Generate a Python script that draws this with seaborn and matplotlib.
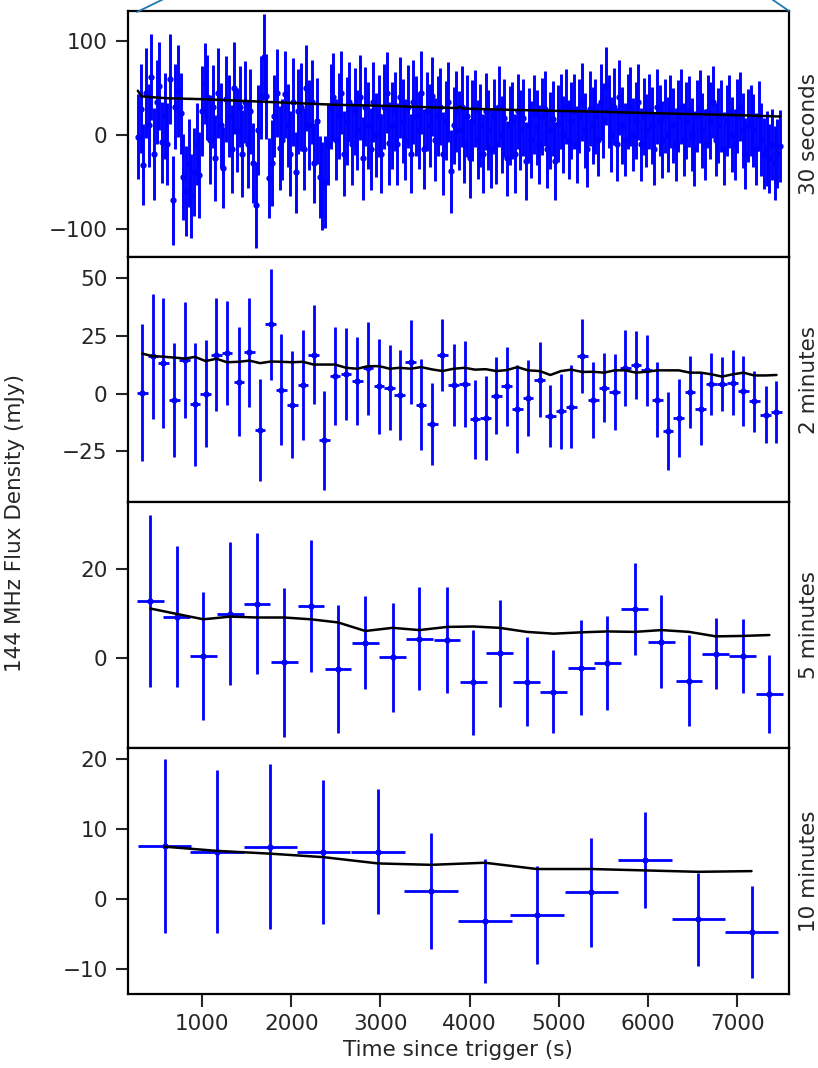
import matplotlib
matplotlib.use("Agg")
import matplotlib.pyplot as plt
from matplotlib.lines import Line2D
import seaborn as sns

# 30 second bins
t_30s = [
    280, 310, 340, 370, 400, 430, 460, 490, 520, 550,
    580, 610, 640, 670, 700, 730, 760, 790, 820, 850,
    880, 910, 940, 970, 1000, 1030, 1060, 1090, 1120, 1150,
    1180, 1210, 1240, 1270, 1300, 1330, 1360, 1390, 1420, 1450,
    1480, 1510, 1540, 1570, 1600, 1630, 1660, 1690, 1720, 1750,
    1780, 1810, 1840, 1870, 1900, 1930, 1960, 1990, 2020, 2050,
    2080, 2110, 2140, 2170, 2200, 2230, 2260, 2290, 2320, 2350,
    2380, 2410, 2440, 2470, 2500, 2530, 2560, 2590, 2620, 2650,
    2680, 2710, 2740, 2770, 2800, 2830, 2860, 2890, 2920, 2950,
    2980, 3010, 3040, 3070, 3100, 3130, 3160, 3190, 3220, 3250,
    3280, 3310, 3340, 3370, 3400, 3430, 3460, 3490, 3520, 3550,
    3580, 3610, 3640, 3670, 3700, 3730, 3760, 3790, 3820, 3850,
    3880, 3910, 3940, 3970, 4000, 4030, 4060, 4090, 4120, 4150,
    4180, 4210, 4240, 4270, 4300, 4330, 4360, 4390, 4420, 4450,
    4480, 4510, 4540, 4570, 4600, 4630, 4660, 4690, 4720, 4750,
    4780, 4810, 4840, 4870, 4900, 4930, 4960, 4990, 5020, 5050,
    5080, 5110, 5140, 5170, 5200, 5230, 5260, 5290, 5320, 5350,
    5380, 5410, 5440, 5470, 5500, 5530, 5560, 5590, 5620, 5650,
    5680, 5710, 5740, 5770, 5800, 5830, 5860, 5890, 5920, 5950,
    5980, 6010, 6040, 6070, 6100, 6130, 6160, 6190, 6220, 6250,
    6280, 6310, 6340, 6370, 6400, 6430, 6460, 6490, 6520, 6550,
    6580, 6610, 6640, 6670, 6700, 6730, 6760, 6790, 6820, 6850,
    6880, 6910, 6940, 6970, 7000, 7030, 7060, 7090, 7120, 7150,
    7180, 7210, 7240, 7270, 7300, 7330, 7360, 7390, 7420, 7450, 7480,
]
flux_30s = [
    -2, 28, -32, 45, 10, 62, -20, 35, 52, -8,
    20, -10, 60, -70, 30, 47, 23, -45, -60, -30,
    -65, -40, -10, -43, 25, 55, 40, -5, 30, -25,
    45, 10, -35, 38, 20, -15, 50, 5, 30, -20,
    35, -10, 25, -30, -75, 5, 40, 83, 41, -46,
    -30, 20, 45, -14, -5, 43, 10, -20, 35, -40,
    25, 30, -15, 50, 10, 35, -30, 15, -45, -55,
    -50, -10, 30, 40, -5, 20, 45, -20, 15, 35,
    -10, 25, 5, 40, -25, 30, 10, -15, 35, 0,
    20, -20, 30, 45, -9, 10, 25, -10, 40, 15,
    -5, 30, -20, 35, 20, 5, 45, -15, 25, 10,
    41, -5, 20, 30, -20, 15, 35, -39, 10, 25,
    5, 30, -10, 20, -25, 15, 28, -5, 10, -20,
    25, 5, -15, 20, -10, 30, 0, 18, -25, 10,
    15, -20, 25, 5, 18, -28, 10, -5, 22, 8,
    -10, 20, 28, -15, 5, 17, -28, 12, 25, 0,
    30, -5, 15, 25, -10, 20, 35, 5, -15, 28,
    10, 20, -5, 35, 15, 52, 25, 0, 30, -10,
    40, 10, -5, 25, 30, 0, 15, 35, -10, 20,
    5, 25, 10, -15, 30, 15, -5, 20, 0, 25,
    10, -10, 20, 30, -5, 15, 25, 0, -15, 20,
    30, 5, -10, 25, 15, 35, -5, 10, 20, -15,
    15, 25, 0, -10, 20, 30, 5, -20, 10, 15,
    5, -15, 20, -5, -20, -15, -25, -10, -30, -20, -12,
]
err_30s = [
    45, 47, 43, 48, 44, 46, 49, 45, 47, 43,
    46, 44, 48, 47, 45, 49, 43, 46, 48, 47,
    45, 47, 44, 46, 48, 43, 45, 47, 44, 46,
    48, 45, 43, 46, 44, 47, 49, 45, 43, 46,
    44, 47, 45, 43, 46, 48, 44, 46, 45, 43,
    46, 44, 47, 45, 43, 46, 44, 45, 47, 43,
    45, 47, 44, 46, 48, 45, 43, 46, 44, 47,
    49, 44, 45, 47, 43, 46, 44, 45, 47, 43,
    44, 46, 43, 45, 44, 42, 46, 44, 43, 45,
    44, 42, 45, 43, 44, 46, 42, 44, 43, 45,
    43, 44, 42, 45, 43, 41, 44, 43, 42, 44,
    42, 44, 43, 41, 44, 42, 43, 44, 41, 43,
    42, 43, 41, 44, 42, 43, 41, 42, 44, 42,
    41, 43, 42, 40, 42, 43, 41, 42, 40, 42,
    41, 42, 40, 43, 41, 42, 40, 41, 42, 40,
    42, 41, 40, 42, 41, 40, 42, 41, 40, 41,
    40, 42, 41, 40, 41, 39, 42, 40, 41, 40,
    41, 40, 39, 41, 40, 42, 39, 40, 41, 39,
    40, 41, 39, 40, 42, 39, 41, 40, 39, 41,
    39, 40, 41, 39, 40, 38, 41, 39, 40, 39,
    40, 39, 38, 40, 39, 41, 38, 39, 40, 38,
    39, 40, 38, 39, 41, 38, 39, 40, 38, 39,
    38, 39, 40, 38, 39, 37, 40, 38, 39, 38,
    39, 38, 37, 39, 38, 40, 37, 38, 39, 37, 38,
]
model_t_30s = [280, 320, 600, 1000, 1500, 2000, 2500, 3000, 3500, 3860, 3890,
               3920, 4500, 5000, 5500, 5900, 6500, 7000, 7480]
model_30s = [47, 41, 39, 38, 36, 34, 32, 31, 29.5, 28.5, 30,
             28, 26.5, 25.5, 24.5, 23.5, 22, 21, 19.5]

# 2 minute bins
t_2min = [330, 450, 565, 690, 805, 920, 1040, 1160, 1280, 1415,
          1530, 1650, 1770, 1890, 2010, 2130, 2250, 2370, 2490, 2615,
          2740, 2860, 2985, 3105, 3215, 3340, 3455, 3580, 3695, 3820,
          3945, 4060, 4180, 4300, 4415, 4535, 4655, 4785, 4905, 5025,
          5140, 5265, 5385, 5505, 5625, 5745, 5865, 5985, 6105, 6225,
          6345, 6470, 6590, 6710, 6830, 6950, 7070, 7190, 7320, 7440]
flux_2min = [0.4, 16.1, 13.2, -2.6, 14.5, -4.6, 0.0, 16.8, 17.5, 5.1,
             17.8, -15.7, 29.9, 1.7, -4.8, 3.7, 16.8, -20.2, 7.5, 8.3,
             5.4, 10.8, 3.1, 2.6, -0.6, 13.7, -4.8, -13.1, 16.8, 3.6,
             4.0, -11.1, -10.5, -0.9, 3.1, -6.7, -2.0, 6.0, -9.8, -7.7,
             -5.7, 16.1, -2.8, 2.6, 0.6, 11.1, 12.3, 10.1, -2.6, -16.2,
             -10.5, 0.6, -6.6, 4.0, 4.0, 4.6, 1.1, -3.4, -9.1, -8.1]
err_2min = [29.7, 27.0, 28.0, 24.6, 24.9, 26.6, 23.1, 24.3, 22.6, 23.6,
            23.4, 22.1, 24.0, 23.8, 23.1, 23.8, 21.2, 21.5, 21.1, 19.8,
            19.0, 20.1, 20.5, 18.3, 19.3, 18.1, 19.7, 17.8, 15.5, 17.8,
            18.5, 17.0, 18.0, 16.5, 17.0, 18.8, 16.5, 16.1, 13.3, 16.3,
            17.8, 16.0, 16.3, 15.0, 16.5, 16.3, 14.7, 15.3, 16.0, 16.7,
            16.8, 15.5, 15.8, 13.3, 11.6, 14.0, 15.3, 13.0, 12.4, 13.4]
model_2min = [17.2, 16.1, 15.9, 15.5, 15.1, 15.8, 14.0, 15.0, 13.5, 13.7,
              14.2, 13.1, 13.8, 13.7, 13.5, 13.7, 12.5, 12.5, 12.5, 11.1,
              10.7, 11.8, 11.8, 10.7, 11.1, 10.7, 11.4, 10.4, 9.7, 10.7,
              11.1, 10.3, 10.5, 9.7, 10.1, 11.4, 10.0, 9.7, 8.0, 9.7,
              10.3, 9.3, 9.4, 9.0, 10.0, 10.0, 9.0, 9.4, 10.0, 10.0,
              10.0, 9.0, 9.0, 8.3, 7.3, 8.3, 9.0, 7.8, 7.8, 8.0]

# 5 minute bins
t_5min = [420, 715, 1015, 1315, 1615, 1920, 2220, 2525, 2830, 3135, 3435, 3745,
          4040, 4335, 4640, 4940, 5250, 5545, 5850, 6150, 6460, 6760, 7060, 7360]
flux_5min = [12.8, 9.3, 0.5, 9.9, 12.2, -0.9, 11.6, -2.4, 3.5, 0.2, 4.4, 4.1,
             -5.3, 1.1, -5.2, -7.4, -2.1, -1.0, 11.0, 3.7, -5.0, 1.0, 0.5, -7.9]
err_5min = [19.2, 15.7, 14.3, 15.9, 15.7, 16.6, 14.7, 14.3, 10.4, 12.2, 11.4, 11.7,
            11.7, 12.0, 9.9, 9.3, 10.6, 10.5, 10.2, 10.3, 10.1, 7.9, 8.2, 8.7]
model_5min = [11.1, 9.9, 8.7, 9.3, 9.1, 9.1, 8.7, 8.0, 6.1, 6.8, 6.3, 7.0,
              7.1, 6.8, 5.9, 5.5, 5.8, 6.0, 5.9, 6.3, 5.9, 4.9, 5.0, 5.2]

# 10 minute bins
t_10min = [580, 1165, 1765, 2360, 2975, 3565, 4170, 4755, 5365, 5965, 6565, 7160]
flux_10min = [7.6, 6.8, 7.5, 6.7, 6.8, 1.2, -3.1, -2.3, 1.0, 5.6, -2.9, -4.7]
err_10min = [12.4, 11.7, 11.8, 10.3, 9.0, 8.3, 8.9, 7.0, 7.8, 6.9, 6.7, 6.6]
model_10min = [7.5, 6.9, 6.5, 6.0, 5.1, 4.9, 5.2, 4.3, 4.3, 4.1, 3.9, 4.0]

sns.set_theme(style="ticks", rc={
    "axes.edgecolor": "black",
    "axes.linewidth": 1.6,
    "xtick.major.size": 9,
    "ytick.major.size": 9,
    "xtick.major.width": 1.5,
    "ytick.major.width": 1.5,
    "xtick.major.pad": 5.5,
    "ytick.major.pad": 5.5,
    "xtick.labelsize": 15.5,
    "ytick.labelsize": 15.5,
    "axes.labelsize": 15.5,
})
plt.rcParams["font.family"] = ["DejaVu Sans"]

fig, axes = plt.subplots(4, 1, sharex=True, figsize=(8.18, 10.68), dpi=100)
fig.subplots_adjust(left=0.156, right=0.9645, bottom=0.0693, top=0.9897, hspace=0)

panels = [
    (t_30s, flux_30s, err_30s, 15, model_t_30s, model_30s, "30 seconds", (-130, 132), [-100, 0, 100]),
    (t_2min, flux_2min, err_2min, 60, t_2min, model_2min, "2 minutes", (-47, 59), [-25, 0, 25, 50]),
    (t_5min, flux_5min, err_5min, 150, t_5min, model_5min, "5 minutes", (-20, 34.7), [0, 20]),
    (t_10min, flux_10min, err_10min, 300, t_10min, model_10min, "10 minutes", (-13.6, 21.6), [-10, 0, 10, 20]),
]

for i, (ax, (t, f, e, half, mt, m, name, ylim, yticks)) in enumerate(zip(axes, panels)):
    lw = 2.1 if i == 0 else 2
    ax.errorbar(t, f, yerr=e, xerr=half, fmt="o", ms=3.5, color="blue",
                elinewidth=lw, capsize=0, zorder=2)
    sns.lineplot(x=mt, y=m, ax=ax, color="black", lw=1.8, zorder=3)
    ax.set_ylim(*ylim)
    ax.set_yticks(yticks)
    ax.yaxis.set_label_position("right")
    ax.set_ylabel(name, labelpad=7)
    if i < 3:
        ax.tick_params(axis="x", bottom=False)

axes[-1].set_xlim(165, 7580)
axes[-1].set_xticks([1000, 2000, 3000, 4000, 5000, 6000, 7000])
axes[-1].set_xlabel("Time since trigger (s)")

fig.text(0.018, 0.51, "144 MHz Flux Density (mJy)", rotation=90,
         ha="center", va="center", fontsize=15.5, color=".15")

# connector lines of the zoom box above the figure
fig.add_artist(Line2D([137 / 818, 166 / 818], [1 - 12 / 1068, 1.002],
                      transform=fig.transFigure, color="#1f77b4", lw=1.3))
fig.add_artist(Line2D([789 / 818, 770 / 818], [1 - 11 / 1068, 1.002],
                      transform=fig.transFigure, color="#1f77b4", lw=1.3))

fig.savefig("out.png", dpi=100)
